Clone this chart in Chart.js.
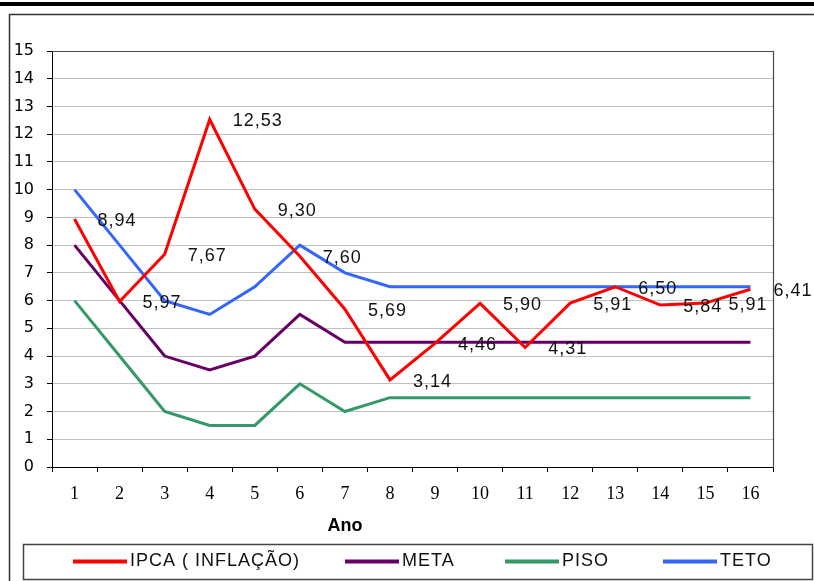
<!DOCTYPE html>
<html>
<head>
<meta charset="utf-8">
<script src="https://cdn.jsdelivr.net/npm/chart.js@4/dist/chart.umd.min.js"></script>
<style>
  html, body { margin: 0; padding: 0; background: #fff; overflow: hidden; }
  canvas { display: block; }
</style>
</head>
<body>
<canvas id="grafico" width="814" height="581"></canvas>
<script>
// Anos (eixo X)
const anos = ['1', '2', '3', '4', '5', '6', '7', '8', '9', '10', '11', '12', '13', '14', '15', '16'];

// Séries (%)
const ipca = [8.94, 5.97, 7.67, 12.53, 9.30, 7.60, 5.69, 3.14, 4.46, 5.90, 4.31, 5.91, 6.50, 5.84, 5.91, 6.41];
const meta = [8, 6, 4, 3.5, 4, 5.5, 4.5, 4.5, 4.5, 4.5, 4.5, 4.5, 4.5, 4.5, 4.5, 4.5];
const piso = [6, 4, 2, 1.5, 1.5, 3, 2, 2.5, 2.5, 2.5, 2.5, 2.5, 2.5, 2.5, 2.5, 2.5];
const teto = [10, 8, 6, 5.5, 6.5, 8, 7, 6.5, 6.5, 6.5, 6.5, 6.5, 6.5, 6.5, 6.5, 6.5];

const nomes = ['IPCA ( INFLAÇÃO)', 'META', 'PISO', 'TETO'];
const cores = ['#FF0000', '#660066', '#339966', '#3366FF'];

const tituloX = 'Ano';
const yMin = 0, yMax = 15, yPasso = 1;

// Início de cada item da legenda (px)
const legendaX = [73, 345, 505, 663];

const fmt = v => v.toFixed(2).replace('.', ',');

// Moldura externa, barra superior e borda da área de plotagem
const moldura = {
  id: 'moldura',
  beforeDraw(chart) {
    const ctx = chart.ctx;
    ctx.save();
    ctx.fillStyle = '#000';
    ctx.fillRect(0, 2, chart.width, 4);
    ctx.strokeStyle = '#333';
    ctx.lineWidth = 1.5;
    ctx.beginPath();
    ctx.moveTo(chart.width, 14.5);
    ctx.lineTo(9.5, 14.5);
    ctx.lineTo(9.5, chart.height);
    ctx.stroke();
    ctx.restore();
  },
  beforeDatasetsDraw(chart) {
    const {ctx, chartArea: a} = chart;
    ctx.save();
    ctx.strokeStyle = '#4a4a4a';
    ctx.lineWidth = 1.2;
    ctx.beginPath();
    ctx.moveTo(a.left, a.top + 0.5);
    ctx.lineTo(a.right + 0.5, a.top + 0.5);
    ctx.lineTo(a.right + 0.5, a.bottom);
    ctx.stroke();
    ctx.restore();
  }
};

// Rótulos de valor do IPCA, à direita de cada ponto
const rotulos = {
  id: 'rotulos',
  afterDatasetsDraw(chart) {
    const ctx = chart.ctx;
    const pts = chart.getDatasetMeta(0).data;
    ctx.save();
    ctx.font = '18px "Liberation Sans", Arial, sans-serif';
    ctx.letterSpacing = '1px';
    ctx.fillStyle = '#111';
    ctx.textAlign = 'left';
    ctx.textBaseline = 'middle';
    pts.forEach((p, i) => {
      ctx.fillText(fmt(ipca[i]), p.x + 23, p.y + 2);
    });
    ctx.restore();
  }
};

// Título do eixo X e legenda em caixa
const legendaCaixa = {
  id: 'legendaCaixa',
  afterDraw(chart) {
    const ctx = chart.ctx;
    const a = chart.chartArea;
    ctx.save();
    ctx.fillStyle = '#000';
    ctx.font = 'bold 18px "Liberation Sans", Arial, sans-serif';
    ctx.textAlign = 'center';
    ctx.textBaseline = 'middle';
    ctx.fillText(tituloX, a.left + 293, 526);

    const topo = 544, base = 579;
    ctx.strokeStyle = '#444';
    ctx.lineWidth = 1.5;
    ctx.strokeRect(23.5, topo + 0.5, 789, base - topo);

    const yMeio = 561.5;
    ctx.font = '18px "Liberation Sans", Arial, sans-serif';
    ctx.letterSpacing = '1px';
    ctx.textAlign = 'left';
    chart.data.datasets.forEach((ds, i) => {
      const x = legendaX[i];
      ctx.strokeStyle = ds.borderColor;
      ctx.lineWidth = 4;
      ctx.beginPath();
      ctx.moveTo(x, yMeio);
      ctx.lineTo(x + 54, yMeio);
      ctx.stroke();
      ctx.fillStyle = '#111';
      ctx.fillText(ds.label, x + 57, yMeio);
    });
    ctx.restore();
  }
};

const series = [ipca, meta, piso, teto];

new Chart(document.getElementById('grafico'), {
  type: 'line',
  data: {
    labels: anos,
    datasets: series.map((s, i) => ({
      label: nomes[i],
      data: s,
      borderColor: cores[i],
      backgroundColor: cores[i],
      borderWidth: 3,
      pointRadius: 0,
      pointHoverRadius: 0,
      tension: 0,
      fill: false
    }))
  },
  options: {
    responsive: false,
    animation: false,
    events: [],
    layout: { padding: { top: 51, right: 41, left: 0, bottom: 73 } },
    plugins: {
      legend: { display: false },
      tooltip: { enabled: false },
      title: { display: false }
    },
    scales: {
      x: {
        type: 'category',
        offset: true,
        afterFit(scale) { scale.height = 41; },
        grid: {
          offset: true,
          drawOnChartArea: false,
          drawTicks: true,
          tickLength: 5,
          tickColor: '#000',
          tickWidth: 1
        },
        border: { color: '#000', width: 1 },
        ticks: {
          color: '#000',
          padding: 11,
          maxRotation: 0,
          autoSkip: false,
          font: { family: '"Liberation Serif", "Times New Roman", serif', size: 18 }
        }
      },
      y: {
        min: yMin,
        max: yMax,
        afterFit(scale) { scale.width = 52; },
        grid: {
          color: '#c0c0c0',
          lineWidth: 1,
          drawTicks: true,
          tickLength: 5,
          tickColor: '#000'
        },
        border: { color: '#000', width: 1 },
        ticks: {
          stepSize: yPasso,
          color: '#000',
          padding: 13,
          font: { family: '"DejaVu Sans", Verdana, sans-serif', size: 16 }
        }
      }
    }
  },
  plugins: [moldura, rotulos, legendaCaixa]
});
</script>
</body>
</html>
